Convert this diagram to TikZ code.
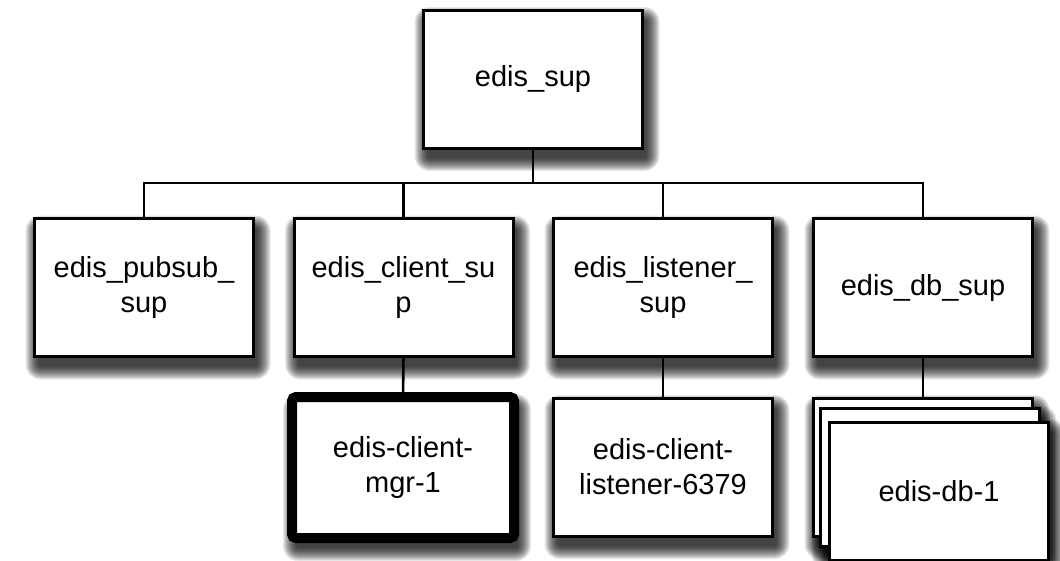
\documentclass[tikz,border=0pt]{standalone}
\usepackage{fontspec}
\setmainfont{Liberation Sans}
\usetikzlibrary{calc}
\pgfdeclarelayer{bg}
\pgfdeclarelayer{shad}
\pgfsetlayers{bg,shad,main}
\newcommand\mydropshadow[1]{%
  \foreach \r in {0,1,...,13}{%
    \pgfmathsetmacro\rc{\r+2}%
    \fill[black, opacity=0.085, rounded corners=\rc pt]
      ($(#1.north west)+(4-\r,10-\r)$) rectangle ($(#1.south east)+(4+\r,10+\r)$);
  }%
}
\begin{document}
\begin{tikzpicture}[x=1pt,y=-1pt,
  box/.style={draw=black, line width=3pt, fill=white, minimum width=219pt, minimum height=138pt,
    align=center, inner sep=0pt, outer sep=0pt,
    font=\fontsize{29}{35}\selectfont},
  thickbox/.style={box, line width=10pt, rounded corners=4pt, minimum width=222pt, minimum height=141pt},
  conn/.style={draw=black, line width=2.6pt}]
\useasboundingbox (0,0) rectangle (1060,560);
\begin{pgfonlayer}{bg}
\fill[white] (0,0) rectangle (1060,560);
\end{pgfonlayer}
% top
\node[box] (sup) at (533,79) {edis\_sup};
% second row
\node[box] (pubsub) at (144,287.5) {edis\_pubsub\_\\sup};
\node[box] (client) at (403.5,287.5) {edis\_client\_su\\p};
\node[box] (listener) at (663,287.5) {edis\_listener\_\\sup};
\node[box] (db) at (923,287.5) {edis\_db\_sup};
% third row
\node[thickbox] (mgr) at (403,467.5) {edis-client-\\mgr-1};
\node[box] (lst) at (663,467) {edis-client-\\listener-6379};
\node[box] (dbA) at (923,467) {};
\node[box] (dbB) at (930,477.5) {};
\node[box] (dbC) at (939,491) {edis-db-1};
% shadows
\begin{pgfonlayer}{shad}
\foreach \n in {sup,pubsub,client,listener,db,mgr,lst,dbA,dbB,dbC}{\mydropshadow{\n}}
\end{pgfonlayer}
% connectors
\coordinate (bus) at (533,183);
\draw[conn] (sup.south) -- (bus);
\draw[conn] (pubsub.north) -- (pubsub.north |- bus) -- (db.north |- bus) -- (db.north);
\draw[conn] (client.north) -- (client.north |- bus);
\draw[conn] (listener.north) -- (listener.north |- bus);
\draw[conn] (client.south) -- (mgr.north);
\draw[conn] (listener.south) -- (lst.north);
\draw[conn] (db.south) -- (dbA.north);
\end{tikzpicture}
\end{document}
